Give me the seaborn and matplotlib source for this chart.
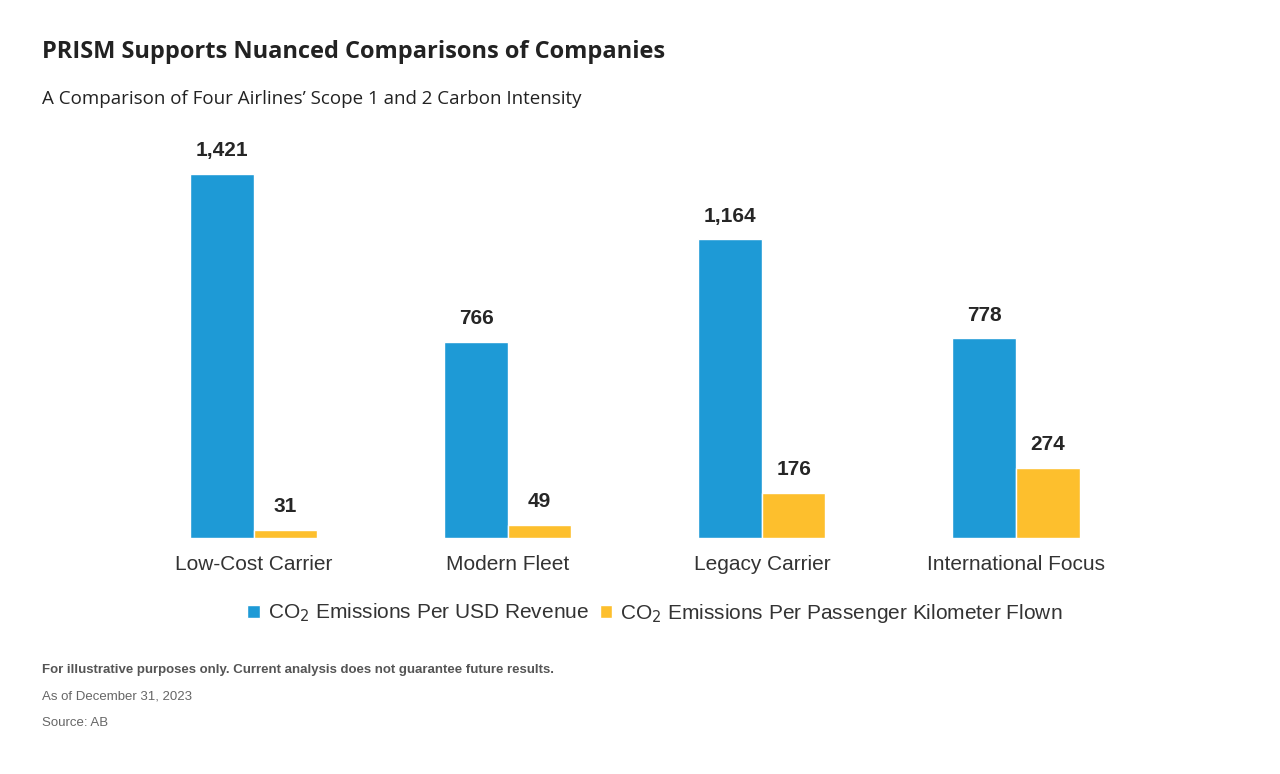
import pandas as pd
import matplotlib.pyplot as plt
import seaborn as sns

carriers = ["Low-Cost Carrier", "Modern Fleet", "Legacy Carrier", "International Focus"]
per_revenue = [1421, 766, 1164, 778]
per_pkm = [31, 49, 176, 274]
series = ["CO$_2$ Emissions Per USD Revenue", "CO$_2$ Emissions Per Passenger Kilometer Flown"]

df = pd.DataFrame({
    "carrier": carriers * 2,
    "value": per_revenue + per_pkm,
    "series": [series[0]] * 4 + [series[1]] * 4,
})

sns.set_style("white")
plt.rcParams["font.family"] = ["Liberation Sans", "DejaVu Sans"]

fig = plt.figure(figsize=(12.8, 7.74), dpi=100)
ax = fig.add_axes([0.099, 0.305, 0.794, 0.53])
sns.barplot(data=df, x="carrier", y="value", hue="series", width=0.5,
            palette=["#1e9ad6", "#fdbf2d"], saturation=1, ax=ax)

for cont in ax.containers:
    ax.bar_label(cont, labels=[f"{v:,.0f}" for v in cont.datavalues],
                 padding=10, fontsize=15, fontweight="bold")

ax.set_xlim(-0.5, 3.5)
ax.set_ylim(0, 1600)
ax.set_yticks([])
ax.set_xlabel("")
ax.set_ylabel("")
ax.tick_params(axis="x", length=0, labelsize=15, pad=12, colors="#333333")
for s in ax.spines.values():
    s.set_visible(False)

ax.legend(loc="upper center", bbox_to_anchor=(0.52, -0.11), ncol=2, frameon=False,
          fontsize=15, handlelength=0.6, handleheight=0.6, handletextpad=0.4,
          columnspacing=0.5, labelcolor="#333333")

fig.text(0.033, 0.925, "PRISM Supports Nuanced Comparisons of Companies",
         fontsize=17, fontweight="bold", color="#222222", family=["Open Sans", "DejaVu Sans"])
fig.text(0.033, 0.866, "A Comparison of Four Airlines\u2019 Scope 1 and 2 Carbon Intensity",
         fontsize=13.5, color="#222222", family=["Open Sans", "DejaVu Sans"])
fig.text(0.033, 0.131, "For illustrative purposes only. Current analysis does not guarantee future results.",
         fontsize=9.5, fontweight="bold", color="#555555")
fig.text(0.033, 0.096, "As of December 31, 2023", fontsize=9.5, color="#666666")
fig.text(0.033, 0.062, "Source: AB", fontsize=9.5, color="#666666")

fig.savefig("out.png", dpi=100)
